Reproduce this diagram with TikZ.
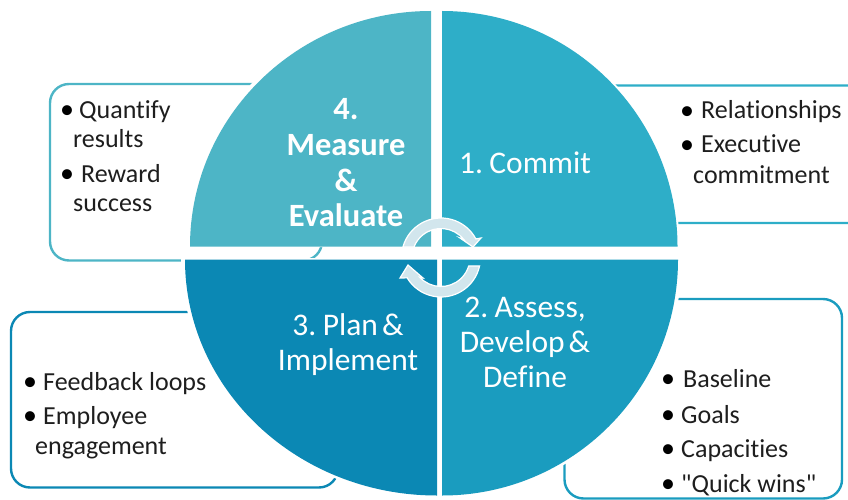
\documentclass[tikz,border=0pt]{standalone}
\usepackage{fontspec}
\usetikzlibrary{calc}
\setmainfont{Carlito}[Ligatures=NoCommon]
\newfontfamily\plainfam{Carlito}
\definecolor{cA}{HTML}{4DB5C6}
\definecolor{cB}{HTML}{2EAEC8}
\definecolor{cC}{HTML}{1A9CBF}
\definecolor{cD}{HTML}{0B88B4}
\definecolor{ringfill}{HTML}{D2E6ED}
\definecolor{inktext}{HTML}{1E1E1E}
\newcommand\hdtight{\spaceskip .13em\relax}
\newcommand\dq{{\plainfam "}}
\tikzset{
  boxline/.style={line width=2.4pt, rounded corners=19pt, fill=white},
  headbold/.style={text=white, font=\fontsize{32.5}{38}\selectfont\bfseries, anchor=base, inner sep=0pt},
  headline/.style={text=white, font=\fontsize{31.5}{37}\selectfont, anchor=base, inner sep=0pt},
  listline/.style={text=inktext, font=\fontsize{26}{29}\selectfont, anchor=base west, inner sep=0pt},
  bulletline/.style={text=black, font=\fontsize{28}{29}\selectfont, anchor=base west, inner sep=0pt},
  ringarrow/.style={fill=ringfill, draw=white, line width=1.2pt, line join=miter},
}
\begin{document}
\begin{tikzpicture}[x=1pt,y=1pt,yscale=-1]
\useasboundingbox (0,0) rectangle (848,500);
% outer boxes
\draw[boxline, draw=cA] (50,84) rectangle (322,260.5);
\draw[boxline, draw=cB] (900,85.5) -- (560,85.5) -- (560,223) -- (900,223);
\draw[boxline, draw=cC] (564.5,299) rectangle (842,498.5);
\draw[boxline, draw=cD] (11,312) rectangle (338,487.5);
% white masks around the disc
\fill[white] (442,247) -- (442,9) arc[start angle=-90,end angle=0,x radius=237.5,y radius=238] -- cycle;
\fill[white] (431,247) -- (431,7) arc[start angle=-90,end angle=-180,x radius=245,y radius=240] -- cycle;
\fill[white] (437,258) -- (181,258) arc[start angle=180,end angle=90,x radius=256,y radius=240] -- cycle;
\fill[white] (442,258) -- (682,258) arc[start angle=0,end angle=90,x radius=240,y radius=240] -- cycle;
% quadrants
\path[fill=cA] (431,246.5) -- (431,11) arc[start angle=-90,end angle=-180,x radius=241,y radius=235.5] -- cycle;
\path[fill=cB] (442,246.5) -- (442,11) arc[start angle=-90,end angle=0,x radius=235.5,y radius=235.5] -- cycle;
\path[fill=cC] (442,259.5) -- (678,259.5) arc[start angle=0,end angle=90,x radius=236,y radius=236] -- cycle;
\path[fill=cD] (437,259.5) -- (185,259.5) arc[start angle=180,end angle=90,x radius=252,y radius=236] -- cycle;
% ring arrows (centre 441,257.5)
\path[ringarrow] (441,257.5) ++(-164.6:39.5) arc[start angle=-164.6,end angle=-28,radius=39.5] -- (481,238) -- (473,247) -- (460,238) -- ($(441,257.5)+(-39:29)$) arc[start angle=-39,end angle=-158.8,radius=29] -- cycle;
\path[ringarrow] (441,257.5) ++(12.4:39.5) arc[start angle=12.4,end angle=149,radius=39.5] -- (400,278) -- (408,265) -- (423,278) -- ($(441,257.5)+(137:29)$) arc[start angle=137,end angle=17,radius=29] -- cycle;
% headings
\node[headline] (n1) at (525,173) {\hdtight 1. Commit};
\node[headbold] (n4a) at (346,120) {4.};
\node[headbold] (n4b) at (346,155) {Measure};
\node[headbold] (n4c) at (346,191) {\&};
\node[headbold] (n4d) at (346,226) {Evaluate};
\node[headline] (n3a) at (348,335) {\hdtight 3. Plan \&};
\node[headline] (n3b) at (348,370) {Implement};
\node[headline] (n2a) at (525,317) {\hdtight 2. Assess,};
\node[headline] (n2b) at (525,352) {\hdtight Develop \&};
\node[headline] (n2c) at (525,387) {Define};
% top-left list
\node[bulletline] (q0) at (60,118.5) {•};
\node[listline] (q1) at (79,118) {Quantify};
\node[listline] (q2) at (73,147) {results};
\node[bulletline] (q3) at (60,182.5) {•};
\node[listline] (q4) at (81,182) {Reward};
\node[listline] (q5) at (73,211) {success};
% top-right list
\node[bulletline] (r0) at (680,119.5) {•};
\node[listline] (r1) at (701,119) {Relationships};
\node[bulletline] (r2) at (680,153.5) {•};
\node[listline] (r3) at (701,153) {Executive};
\node[listline] (r4) at (693,183) {commitment};
% bottom-right list
\node[bulletline] (b0) at (661,387.5) {•};
\node[listline] (b1) at (683,387) {Baseline};
\node[bulletline] (b2) at (661,423.5) {•};
\node[listline] (b3) at (681,423) {Goals};
\node[bulletline] (b4) at (661,457.5) {•};
\node[listline] (b5) at (681,457) {Capacities};
\node[bulletline] (b6) at (661,492.5) {•};
\node[listline] (b7) at (681,492) {\dq Quick wins\dq};
% bottom-left list
\node[bulletline] (f0) at (23,390.5) {•};
\node[listline] (f1) at (43,390) {Feedback loops};
\node[bulletline] (f2) at (23,424.5) {•};
\node[listline] (f3) at (43,424) {Employee};
\node[listline] (f4) at (35,454) {engagement};
\end{tikzpicture}
\end{document}
